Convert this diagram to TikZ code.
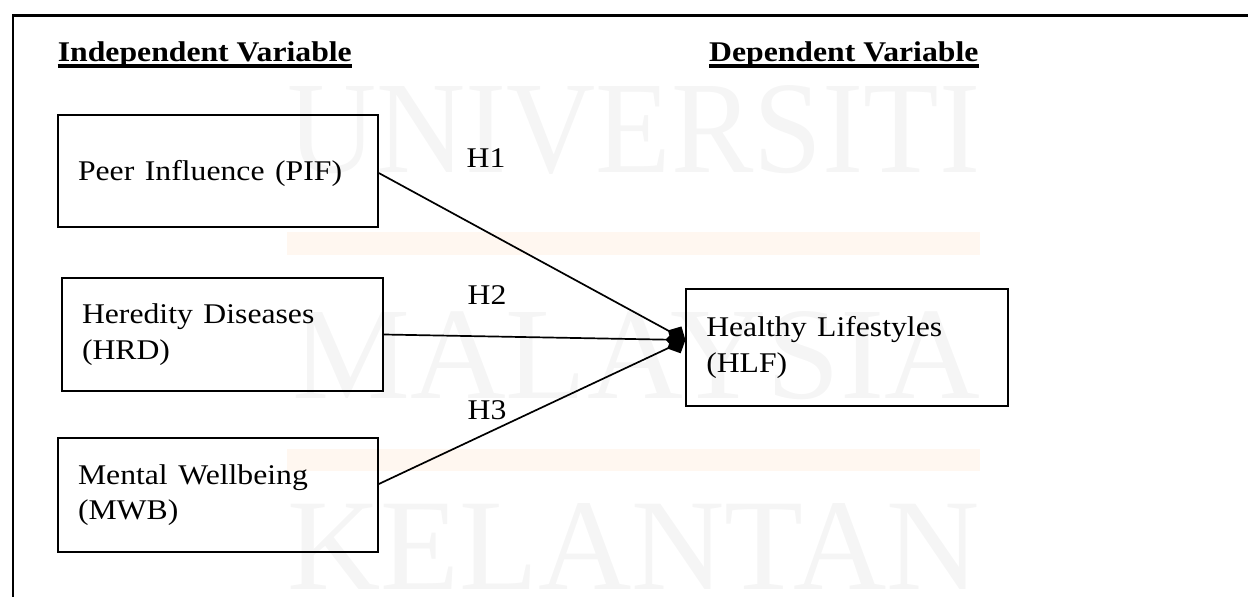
\documentclass[tikz,border=0pt]{standalone}
\usepackage{fontspec}
\setmainfont{Liberation Serif}
\usepackage{graphicx}
\usetikzlibrary{arrows.meta}
\newcommand\vsq[1]{\scalebox{1}[0.9]{\begin{tabular}{@{}l@{}}#1\end{tabular}}}
\begin{document}
\begin{tikzpicture}[x=1pt,y=-1pt,
  box/.style={draw, line width=1.6pt, inner xsep=20pt, inner ysep=0pt, align=left,
    font=\fontsize{31.7}{39}\selectfont},
  conn/.style={line width=1.7pt, -{Kite[length=20pt,width=20pt,inset=10pt]}},
  lbl/.style={inner sep=0pt, font=\fontsize{31.7}{39}\selectfont},
  head/.style={inner sep=0pt, anchor=base west, font=\fontsize{31.7}{39}\selectfont\bfseries},
  wm/.style={inner sep=0pt, anchor=south west, text=black!4},
  ]
\useasboundingbox (0,0) rectangle (1248,597);
% watermark
\fill[orange!6] (287,232) rectangle (980,255);
\fill[orange!6] (287,449) rectangle (980,471);
\node[wm] (w1) at (287,175) {\resizebox{693pt}{87pt}{\fontsize{100}{100}\selectfont UNIVERSITI}};
\node[wm] (w2) at (292,400) {\resizebox{688pt}{87pt}{\fontsize{100}{100}\selectfont MALAYSIA}};
\node[wm] (w3) at (287,590) {\resizebox{693pt}{86pt}{\fontsize{100}{100}\selectfont KELANTAN}};
% frame
\draw[line width=2.6pt] (1248,15.5) -- (12.8,15.5) -- (12.8,597);
% headings
\node[head] (ih) at (57.7,61) {\scalebox{1}[0.9]{Independent Variable}};
\node[head] (dh) at (709,61) {\scalebox{1}[0.9]{Dependent Variable}};
\draw[line width=3.2pt] ([yshift=-5pt]ih.base west) -- ([yshift=-5pt]ih.base east);
\draw[line width=3.2pt] ([yshift=-5pt]dh.base west) -- ([yshift=-5pt]dh.base east);
% boxes
\node[box, text width=280pt, minimum height=112pt] (pif) at (218,171) {\vsq{\raisebox{-3pt}{Peer Influence (PIF)}}};
\node[box, text width=281pt, minimum height=113pt] (hrd) at (222.5,334.5) {\vsq{Heredity Diseases\\(HRD)}};
\node[box, text width=280pt, minimum height=114pt] (mwb) at (218,495) {\vsq{Mental Wellbeing\\(MWB)}};
\node[box, text width=281.5pt, minimum height=117pt] (hlf) at (847,347.5) {\vsq{Healthy Lifestyles\\(HLF)}};
% labels
\node[lbl] (h1) at (486,158) {\scalebox{1}[0.9]{H1}};
\node[lbl] (h2) at (487,295) {\scalebox{1}[0.9]{H2}};
\node[lbl] (h3) at (487,410) {\scalebox{1}[0.9]{H3}};
% connectors
\coordinate (tip) at ([yshift=7.5pt]hlf.west);
\draw[conn] ([yshift=-2pt]pif.east) -- (tip);
\draw[conn] (hrd.east) -- (tip);
\draw[conn] ([yshift=11pt]mwb.east) -- (tip);
\end{tikzpicture}
\end{document}
